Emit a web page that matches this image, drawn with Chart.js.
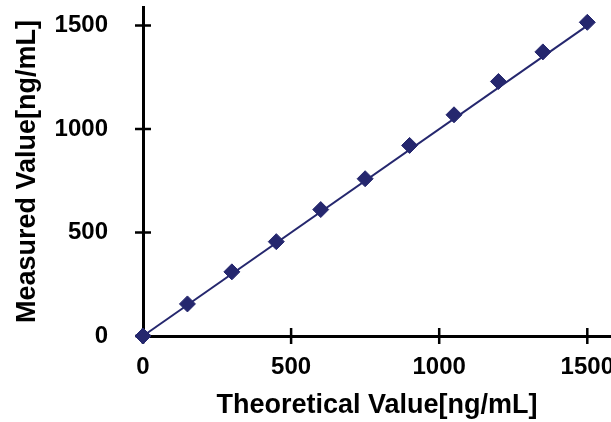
<!DOCTYPE html>
<html>
<head>
<meta charset="utf-8">
<script src="https://cdn.jsdelivr.net/npm/chart.js@4.4.1/dist/chart.umd.min.js"></script>
<style>
  html, body { margin: 0; padding: 0; background: #fff; }
</style>
</head>
<body>
<canvas id="chart" width="611" height="422"></canvas>
<script>
"use strict";

// Data
const theoretical = [0, 150, 300, 450, 600, 750, 900, 1050, 1200, 1350, 1500];
const measured = [0, 155, 310, 456, 611, 760, 921, 1069, 1230, 1373, 1516];
const lineX = [0, 1500];
const lineY = [0, 1500];
const xTicks = [0, 500, 1000, 1500];
const yTicks = [0, 500, 1000, 1500];

const navy = '#25276e';
const fontFamily = "'Liberation Sans', Arial, sans-serif";

// ticks that cross the axis line (half inside, half outside)
const crossTicks = {
    id: 'crossTicks',
    beforeDatasetsDraw: function (chart) {
        const ctx = chart.ctx;
        const x = chart.scales.x;
        const y = chart.scales.y;
        const len = 8;
        ctx.save();
        ctx.strokeStyle = '#000';
        ctx.lineWidth = 2.5;
        ctx.beginPath();
        x.ticks.forEach(function (t) {
            const px = x.getPixelForValue(t.value);
            ctx.moveTo(px, y.bottom - len);
            ctx.lineTo(px, y.bottom + len);
        });
        y.ticks.forEach(function (t) {
            const py = y.getPixelForValue(t.value);
            ctx.moveTo(x.left - len, py);
            ctx.lineTo(x.left + len, py);
        });
        ctx.stroke();
        ctx.restore();
    }
};

var ctx = document.getElementById('chart');
var chart = new Chart(ctx, {
    type: 'scatter',
    data: {
        datasets: [
            {
                label: 'Measured',
                data: theoretical.map(function (v, i) { return { x: v, y: measured[i] }; }),
                showLine: false,
                pointStyle: 'rectRot',
                pointRadius: 8,
                pointBorderWidth: 1,
                backgroundColor: navy,
                borderColor: navy,
                clip: false
            },
            {
                label: 'Fit',
                data: lineX.map(function (v, i) { return { x: v, y: lineY[i] }; }),
                showLine: true,
                pointRadius: 0,
                borderWidth: 2,
                borderColor: navy,
                clip: false
            }
        ]
    },
    options: {
        responsive: false,
        animation: false,
        devicePixelRatio: 1,
        layout: {
            autoPadding: false,
            padding: { top: 7, right: 0, bottom: 0, left: 0 }
        },
        plugins: {
            legend: { display: false },
            tooltip: { enabled: false }
        },
        scales: {
            x: {
                type: 'linear',
                min: 0,
                max: 1580,
                grid: { display: false },
                border: { display: true, color: '#000', width: 3 },
                afterBuildTicks: function (s) {
                    s.ticks = xTicks.map(function (v) { return { value: v }; });
                },
                afterFit: function (s) {
                    s.height = 86;
                    s.paddingLeft = 0;
                    s.paddingRight = 0;
                },
                ticks: {
                    color: '#000',
                    padding: 9,
                    maxRotation: 0,
                    callback: function (v) { return String(v); },
                    font: { family: fontFamily, size: 24, weight: 'bold' }
                },
                title: {
                    display: true,
                    text: 'Theoretical Value[ng/mL]',
                    color: '#000',
                    padding: { top: 0, bottom: 0 },
                    font: { family: fontFamily, size: 27, weight: 'bold' }
                }
            },
            y: {
                type: 'linear',
                min: 0,
                max: 1590,
                grid: { display: false },
                border: { display: true, color: '#000', width: 3 },
                afterBuildTicks: function (s) {
                    s.ticks = yTicks.map(function (v) { return { value: v }; });
                },
                afterFit: function (s) {
                    s.width = 143;
                    s.paddingTop = 0;
                    s.paddingBottom = 0;
                },
                ticks: {
                    color: '#000',
                    padding: 27,
                    callback: function (v) { return String(v); },
                    font: { family: fontFamily, size: 24, weight: 'bold' }
                },
                title: {
                    display: true,
                    text: 'Measured Value[ng/mL]',
                    color: '#000',
                    padding: { top: 11, bottom: 0 },
                    font: { family: fontFamily, size: 27, weight: 'bold' }
                }
            }
        }
    },
    plugins: [crossTicks]
});
</script>
</body>
</html>
